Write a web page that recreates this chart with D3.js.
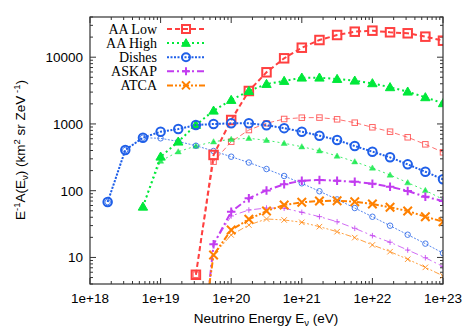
<!DOCTYPE html>
<html><head><meta charset="utf-8">
<script src="https://cdn.jsdelivr.net/npm/d3@7/dist/d3.min.js"></script>
<style>
html,body{margin:0;padding:0;background:#fff;}
svg{display:block;}
</style></head>
<body>
<svg id="chart" width="467" height="327"></svg>
<script>
// ---- data ----
const logEnergies = [18.25,18.5,18.75,19.0,19.25,19.5,19.75,20.0,20.25,20.5,20.75,21.0,21.25,21.5,21.75,22.0,22.25,22.5,22.75,23.0];
const seriesNames = ["AA Low","AA High","Dishes","ASKAP","ATCA"];
const aaLowHigh   = [null,null,null,null,null,5.5,343,1145,3115,5940,9620,13870,18080,21500,24100,24950,23600,22800,20300,17660];
const aaLowLow    = [null,null,null,null,null,5.5,272,542,811,1022,1186,1240,1245,1173,1044,891,765,631,495,376];
const aaHighHigh  = [null,null,57.5,323,542,964,1578,2283,3115,3965,4400,4930,4930,4710,4445,4060,3540,3044,2505,2039];
const aaHighLow   = [null,null,57.5,278,384,467,542,589,609,569,513,456,397,331,272,219,172,132,101,74];
const dishesHigh  = [67.6,407,622,765,840,963,997,1021,1021,955,865,765,667,575,467,384,316,248,192,148];
const dishesLow   = [67.6,407,622,609,546,472,393,323,264,211,166,129,98,74,55,40.7,29.9,21.9,16.1,11.6];
const askapHigh   = [null,null,null,null,null,0.05,15.7,48.4,76.9,101,125,141,145,141,136,127,115,99,81,70];
const askapLow    = [null,null,null,null,null,0.05,15.7,41.8,51.4,55,54.5,47.5,40.8,34.3,27.3,21.2,16.9,12.9,9.9,7.3];
const atcaHigh    = [null,null,null,null,null,0.15,10.9,25.8,37.3,49.6,61,67,70,70.8,68.4,63.2,56.4,49.6,40.8,34.3];
const atcaLow     = [null,null,null,null,null,0.15,10.9,21.7,30.6,37.7,36.4,33.6,28.9,24.3,19.8,15.4,12.2,9.4,7.1,5.3];
const xTickValues = [1e18,1e19,1e20,1e21,1e22,1e23];
const xTickLabels = ["1e+18","1e+19","1e+20","1e+21","1e+22","1e+23"];
const yTickValues = [10,100,1000,10000];
const yTickLabels = ["10","100","1000","10000"];

// ---- styles ----
const styles = {
  "AA Low": {color:"#ff4040", dash:"5,3", marker:"square", thick:aaLowHigh, thin:aaLowLow},
  "AA High":{color:"#00e83a", dash:"2,3", marker:"triangle", thick:aaHighHigh, thin:aaHighLow},
  "Dishes": {color:"#1f5fe8", dash:"2,1.5", marker:"circle", thick:dishesHigh, thin:dishesLow},
  "ASKAP":  {color:"#c23cf0", dash:"7,3,2,3", marker:"plus", thick:askapHigh, thin:askapLow},
  "ATCA":   {color:"#ff8000", dash:"6,2,2,2,2,2", marker:"cross", thick:atcaHigh, thin:atcaLow}
};
const SANS = "'Liberation Sans',Arial,sans-serif";
const SERIF = "'Liberation Serif','Times New Roman',serif";

const svg = d3.select("#chart");
const L = 90, R = 443, T = 17, B = 284;
const x = d3.scaleLog().domain([1e18,1e23]).range([L,R]);
const y = d3.scaleLog().domain([4,40000]).range([B,T]);

svg.append("defs").append("clipPath").attr("id","clip")
  .append("rect").attr("x",L).attr("y",T).attr("width",R-L).attr("height",B-T);

// ticks
const axisColor = "#333";
const ticksG = svg.append("g").attr("stroke",axisColor).attr("stroke-width",1);
const xMinor = [];
for (let d=18; d<23; d++) for (let m=2; m<=9; m++) xMinor.push(m*Math.pow(10,d));
const yMinor = [];
for (let d=0; d<5; d++) for (let m=2; m<=9; m++) { const v=m*Math.pow(10,d); if (v>=4 && v<=40000) yMinor.push(v); }
xTickValues.forEach(v=>{
  ticksG.append("line").attr("x1",x(v)).attr("x2",x(v)).attr("y1",B).attr("y2",B-6);
  ticksG.append("line").attr("x1",x(v)).attr("x2",x(v)).attr("y1",T).attr("y2",T+6);
});
xMinor.forEach(v=>{
  ticksG.append("line").attr("x1",x(v)).attr("x2",x(v)).attr("y1",B).attr("y2",B-3);
  ticksG.append("line").attr("x1",x(v)).attr("x2",x(v)).attr("y1",T).attr("y2",T+3);
});
yTickValues.forEach(v=>{
  ticksG.append("line").attr("x1",L).attr("x2",L+6).attr("y1",y(v)).attr("y2",y(v));
  ticksG.append("line").attr("x1",R).attr("x2",R-6).attr("y1",y(v)).attr("y2",y(v));
});
yMinor.forEach(v=>{
  ticksG.append("line").attr("x1",L).attr("x2",L+3).attr("y1",y(v)).attr("y2",y(v));
  ticksG.append("line").attr("x1",R).attr("x2",R-3).attr("y1",y(v)).attr("y2",y(v));
});

// tick labels
xTickValues.forEach((v,i)=>{
  svg.append("text").attr("x",x(v)).attr("y",303).attr("text-anchor","middle")
    .style("font-family",SANS).style("font-size","13.5px").attr("fill","#000").text(xTickLabels[i]);
});
yTickValues.forEach((v,i)=>{
  svg.append("text").attr("x",83).attr("y",y(v)+5).attr("text-anchor","end")
    .style("font-family",SANS).style("font-size","13.5px").attr("fill","#000").text(yTickLabels[i]);
});

// marker drawing
function drawMarker(g, type, cx, cy, s, color, sw){
  const h = s/2;
  if (type==="square") {
    g.append("rect").attr("x",cx-h).attr("y",cy-h).attr("width",s).attr("height",s)
      .attr("fill","none").attr("stroke",color).attr("stroke-width",sw);
  } else if (type==="circle") {
    g.append("circle").attr("cx",cx).attr("cy",cy).attr("r",h)
      .attr("fill","none").attr("stroke",color).attr("stroke-width",sw);
  } else if (type==="triangle") {
    g.append("path").attr("d",`M${cx},${cy-h*1.1}L${cx+h*1.1},${cy+h*0.8}L${cx-h*1.1},${cy+h*0.8}Z`)
      .attr("fill",color).attr("stroke",color).attr("stroke-width",sw*0.5);
  } else if (type==="plus") {
    g.append("path").attr("d",`M${cx-h},${cy}H${cx+h}M${cx},${cy-h}V${cy+h}`)
      .attr("stroke",color).attr("stroke-width",sw).attr("fill","none");
  } else if (type==="cross") {
    g.append("path").attr("d",`M${cx-h},${cy-h}L${cx+h},${cy+h}M${cx-h},${cy+h}L${cx+h},${cy-h}`)
      .attr("stroke",color).attr("stroke-width",sw).attr("fill","none");
  }
}

const plot = svg.append("g").attr("clip-path","url(#clip)");
const line = d3.line().defined(d=>d.v!=null).x(d=>x(Math.pow(10,d.e))).y(d=>y(d.v));

seriesNames.forEach(name=>{
  const st = styles[name];
  const thinData = logEnergies.map((e,i)=>({e, v:st.thin[i]}));
  plot.append("path").attr("d",line(thinData)).attr("fill","none")
    .attr("stroke",st.color).attr("stroke-opacity",0.75).attr("stroke-width",1)
    .attr("stroke-dasharray",st.dash);
  const mg = plot.append("g").attr("opacity",0.8);
  thinData.forEach(d=>{ if(d.v!=null) drawMarker(mg, st.marker, x(Math.pow(10,d.e)), y(d.v), 5.5, st.color, 1); });
});
seriesNames.forEach(name=>{
  const st = styles[name];
  const thickData = logEnergies.map((e,i)=>({e, v:st.thick[i]}));
  plot.append("path").attr("d",line(thickData)).attr("fill","none")
    .attr("stroke",st.color).attr("stroke-width",2)
    .attr("stroke-dasharray",st.dash);
  const mg = plot.append("g");
  thickData.forEach(d=>{ if(d.v!=null) drawMarker(mg, st.marker, x(Math.pow(10,d.e)), y(d.v), 8.5, st.color, 2); });
});

// frame
svg.append("rect").attr("x",L).attr("y",T).attr("width",R-L).attr("height",B-T)
  .attr("fill","none").attr("stroke",axisColor).attr("stroke-width",1.2);

// legend
const legY0 = 29, legDy = 14.1;
seriesNames.forEach((name,i)=>{
  const st = styles[name];
  const ly = legY0 + i*legDy;
  svg.append("text").attr("x",157).attr("y",ly+5).attr("text-anchor","end")
    .style("font-family",SERIF).style("font-size","14px")
    .attr("fill","#000").text(name);
  svg.append("line").attr("x1",167).attr("x2",205).attr("y1",ly).attr("y2",ly)
    .attr("stroke",st.color).attr("stroke-width",2).attr("stroke-dasharray",st.dash);
  drawMarker(svg.append("g"), st.marker, 186, ly, 8, st.color, 2);
});

// axis labels
const xl = svg.append("text").attr("x",266).attr("y",323).attr("text-anchor","middle")
  .style("font-family",SANS).style("font-size","13.5px").attr("fill","#000");
xl.append("tspan").text("Neutrino Energy E");
xl.append("tspan").style("font-size","9.5px").attr("dy",3).text("ν");
xl.append("tspan").attr("dy",-3).text(" (eV)");

const yl = svg.append("text").attr("transform","translate(25,150) rotate(-90)")
  .attr("text-anchor","middle").style("font-family",SANS).style("font-size","13.5px").attr("fill","#000");
yl.append("tspan").text("E");
yl.append("tspan").style("font-size","9.5px").attr("dy",-5).text("-1");
yl.append("tspan").attr("dy",5).text("A(E");
yl.append("tspan").style("font-size","9.5px").attr("dy",3).text("ν");
yl.append("tspan").attr("dy",-3).text(") (km");
yl.append("tspan").style("font-size","9.5px").attr("dy",-5).text("2");
yl.append("tspan").attr("dy",5).text(" sr ZeV");
yl.append("tspan").style("font-size","9.5px").attr("dy",-5).text(" -1");
yl.append("tspan").attr("dy",5).text(")");
</script>
</body></html>
